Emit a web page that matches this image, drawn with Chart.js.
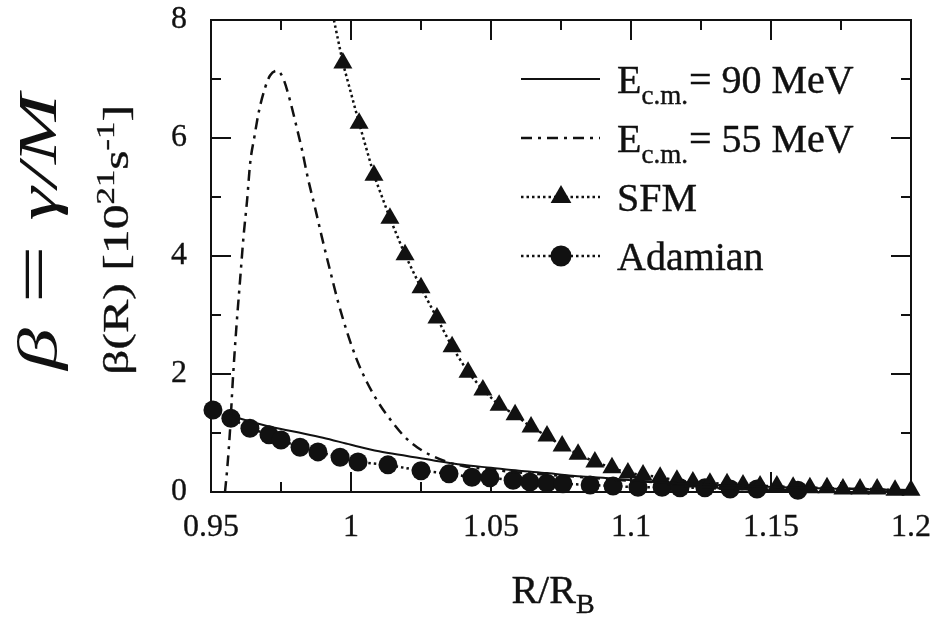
<!DOCTYPE html>
<html>
<head>
<meta charset="utf-8">
<script src="https://cdn.jsdelivr.net/npm/chart.js@4.4.1/dist/chart.umd.min.js"></script>
<style>
  html, body { margin: 0; padding: 0; background: #fff; }
  #wrap { width: 943px; height: 619px; }
</style>
</head>
<body>
<div id="wrap"><canvas id="BetaChart" width="943" height="619"></canvas></div>
<script>
// axis ticks
const xTicks = [0.95, 1, 1.05, 1.1, 1.15, 1.2];
const xMinorTicks = [0.975, 1.025, 1.075, 1.125, 1.175];
const yTicks = [0, 2, 4, 6, 8];
const yMinorTicks = [1, 3, 5, 7];

// E_c.m. = 90 MeV
const r90 = [0.9575, 0.96, 0.97, 0.98, 0.99, 1.0, 1.01, 1.02, 1.03, 1.04, 1.05, 1.06, 1.07,
  1.08, 1.09, 1.1, 1.12, 1.14, 1.16, 1.18, 1.2];
const beta90 = [1.29, 1.25, 1.12, 1.02, 0.92, 0.8, 0.69, 0.61, 0.53, 0.46, 0.41, 0.36, 0.32,
  0.27, 0.24, 0.2, 0.14, 0.1, 0.07, 0.05, 0.03];

// E_c.m. = 55 MeV
const r55 = [0.955, 0.9558, 0.9568, 0.9578, 0.959, 0.9604, 0.9616, 0.9629, 0.964, 0.9655,
  0.9671, 0.9693, 0.9711, 0.9736, 0.9757, 0.9782, 0.9804, 0.9825, 0.9846, 0.9871, 0.9896,
  0.9925, 0.9954, 0.9986, 1.0021, 1.0057, 1.0104, 1.015, 1.0193, 1.0236, 1.0282, 1.0343,
  1.04, 1.05, 1.06, 1.08, 1.1, 1.14, 1.2];
const beta55 = [0, 0.4, 1.05, 1.9, 2.75, 3.6, 4.32, 4.95, 5.58, 6.02,
  6.45, 6.85, 7.06, 7.14, 7.02, 6.64, 6.22, 5.8, 5.32, 4.83, 4.32,
  3.76, 3.22, 2.71, 2.24, 1.86, 1.47, 1.17, 0.93, 0.76, 0.63, 0.51,
  0.44, 0.38, 0.33, 0.26, 0.19, 0.1, 0.03];

// SFM
const rSFM = [0.9939, 0.9971, 1.0029, 1.0082, 1.0139, 1.0193, 1.025, 1.0307, 1.0361, 1.0418,
  1.0471, 1.0529, 1.0586, 1.0643, 1.07, 1.0754, 1.0811, 1.0871, 1.0932, 1.0989, 1.1043,
  1.1104, 1.1164, 1.1221, 1.1282, 1.1343, 1.14, 1.1461, 1.1521, 1.1579, 1.1639, 1.17,
  1.1757, 1.1818, 1.1879, 1.1943, 1.2];
const betaSFM = [8.0, 7.27, 6.25, 5.37, 4.64, 4.02, 3.46, 2.95, 2.46, 2.03,
  1.73, 1.47, 1.31, 1.1, 0.95, 0.78, 0.64, 0.51, 0.41, 0.32, 0.29,
  0.25, 0.2, 0.17, 0.15, 0.14, 0.12, 0.1, 0.1, 0.08, 0.07, 0.07,
  0.05, 0.05, 0.05, 0.03, 0.03];

// Adamian
const rAdamian = [0.9507, 0.9571, 0.9639, 0.9707, 0.975, 0.9818, 0.9882, 0.9961, 1.0025, 1.0132,
  1.025, 1.035, 1.0432, 1.0496, 1.0579, 1.0639, 1.07, 1.0757, 1.0854, 1.0936, 1.1025,
  1.1111, 1.1175, 1.1264, 1.1354, 1.145, 1.1596];
const betaAdamian = [1.39, 1.25, 1.08, 0.97, 0.88, 0.76, 0.68, 0.59, 0.51, 0.46,
  0.36, 0.31, 0.25, 0.24, 0.2, 0.17, 0.15, 0.14, 0.12, 0.1, 0.08,
  0.08, 0.07, 0.07, 0.05, 0.05, 0.03];

const INK = '#111';
const SERIF = '"Liberation Serif", "Times New Roman", serif';
const toXY = (xs, ys) => xs.map((x, i) => ({ x: x, y: ys[i] }));

// inward ticks on all four sides plus the frame
const framePlugin = {
  id: 'frame',
  afterDatasetsDraw(chart) {
    const { ctx, chartArea: a, scales: { x, y } } = chart;
    ctx.save();
    ctx.strokeStyle = INK;
    ctx.lineWidth = 2;
    ctx.setLineDash([]);
    ctx.strokeRect(a.left, a.top, a.right - a.left, a.bottom - a.top);
    const xMark = (v, len) => {
      const px = x.getPixelForValue(v);
      ctx.beginPath();
      ctx.moveTo(px, a.bottom); ctx.lineTo(px, a.bottom - len);
      ctx.moveTo(px, a.top); ctx.lineTo(px, a.top + len);
      ctx.stroke();
    };
    const yMark = (v, len) => {
      const py = y.getPixelForValue(v);
      ctx.beginPath();
      ctx.moveTo(a.left, py); ctx.lineTo(a.left + len, py);
      ctx.moveTo(a.right, py); ctx.lineTo(a.right - len, py);
      ctx.stroke();
    };
    xTicks.forEach(v => xMark(v, 20));
    xMinorTicks.forEach(v => xMark(v, 10));
    yTicks.forEach(v => yMark(v, 20));
    yMinorTicks.forEach(v => yMark(v, 10));
    ctx.restore();
  }
};

function marker(ctx, style, cx, cy, r) {
  ctx.beginPath();
  if (style === 'triangle') {
    ctx.moveTo(cx, cy - r);
    ctx.lineTo(cx + r * 0.866, cy + r * 0.5);
    ctx.lineTo(cx - r * 0.866, cy + r * 0.5);
    ctx.closePath();
  } else {
    ctx.arc(cx, cy, r, 0, Math.PI * 2);
  }
  ctx.fill();
}

// text made of pieces: {t, size, dy, italic, gap}
function richWidth(ctx, parts) {
  let w = 0;
  parts.forEach(p => {
    ctx.font = (p.italic ? 'italic ' : '') + p.size + 'px ' + SERIF;
    w += ctx.measureText(p.t).width + (p.gap || 0);
  });
  return w;
}
function drawRich(ctx, parts, x0, y0, weight) {
  let x = x0;
  parts.forEach(p => {
    ctx.font = (p.italic ? 'italic ' : '') + p.size + 'px ' + SERIF;
    ctx.fillText(p.t, x, y0 + (p.dy || 0));
    if (weight) {
      ctx.lineWidth = weight;
      ctx.strokeText(p.t, x, y0 + (p.dy || 0));
    }
    x += ctx.measureText(p.t).width + (p.gap || 0);
  });
}
// vertical text, read bottom to top, centred on cy and stretched to len
function drawVertical(ctx, parts, baseX, cy, len, weight) {
  const w = richWidth(ctx, parts);
  ctx.save();
  ctx.translate(baseX, cy);
  ctx.rotate(-Math.PI / 2);
  ctx.scale(len / w, 1);
  drawRich(ctx, parts, -w / 2, 0, weight);
  ctx.restore();
}

const labelsPlugin = {
  id: 'labels',
  afterDraw(chart) {
    const ctx = chart.ctx;
    ctx.save();
    ctx.fillStyle = INK;
    ctx.strokeStyle = INK;
    ctx.textBaseline = 'alphabetic';
    ctx.textAlign = 'left';

    // legend
    const rows = [79, 138, 197, 256];
    const lx0 = 521, lx1 = 600, mx = 561, tx = 617;
    chart.data.datasets.forEach((ds, i) => {
      const yy = rows[i];
      ctx.lineWidth = ds.borderWidth;
      ctx.setLineDash(ds.borderDash || []);
      ctx.beginPath();
      ctx.moveTo(lx0, yy); ctx.lineTo(lx1, yy);
      ctx.stroke();
      ctx.setLineDash([]);
      if (ds.legendMarker) marker(ctx, ds.legendMarker, mx, yy, ds.legendMarker === 'triangle' ? 12 : 10.5);
    });
    const ecm = (val) => [
      { t: 'E', size: 40 },
      { t: 'c.m.', size: 27, dy: 11, gap: 1 },
      { t: '= ' + val + ' MeV', size: 40 }
    ];
    drawRich(ctx, ecm('90'), tx, rows[0] + 14, 0.4);
    drawRich(ctx, ecm('55'), tx, rows[1] + 14, 0.4);
    drawRich(ctx, [{ t: 'SFM', size: 40 }], tx, rows[2] + 14, 0.4);
    drawRich(ctx, [{ t: 'Adamian', size: 40 }], tx, rows[3] + 14, 0.4);

    // x title
    const xt = [{ t: 'R/R', size: 40 }, { t: 'B', size: 28, dy: 10 }];
    drawRich(ctx, xt, 553 - richWidth(ctx, xt) / 2, 603, 0.4);

    // y title
    drawVertical(ctx, [
      { t: '\u03b2(R) [10', size: 36 },
      { t: '21', size: 25, dy: -14 },
      { t: 's', size: 36 },
      { t: '-1', size: 25, dy: -14 },
      { t: ']', size: 36 }
    ], 128, 240, 270, 0.35);

    // defining relation
    drawVertical(ctx, [
      { t: '\u03b2', size: 54, italic: true, gap: 16 },
      { t: '=', size: 66, gap: 16 },
      { t: '\u03b3/M', size: 54, italic: true }
    ], 56, 232, 276);
    ctx.restore();
  }
};

new Chart(document.getElementById('BetaChart').getContext('2d'), {
  type: 'scatter',
  data: {
    datasets: [{
      label: 'E c.m. = 90 MeV',
      data: toXY(r90, beta90),
      showLine: true,
      borderColor: INK,
      borderWidth: 2,
      pointRadius: 0,
      cubicInterpolationMode: 'monotone'
    }, {
      label: 'E c.m. = 55 MeV',
      data: toXY(r55, beta55),
      showLine: true,
      borderColor: INK,
      borderWidth: 2.5,
      borderDash: [11, 6, 3, 6],
      pointRadius: 0,
      cubicInterpolationMode: 'monotone'
    }, {
      label: 'SFM',
      data: toXY(rSFM, betaSFM),
      showLine: true,
      borderColor: INK,
      borderWidth: 2.5,
      borderDash: [2.5, 3],
      pointStyle: 'triangle',
      pointRadius: ctx => ctx.dataIndex === 0 ? 0 : 11,
      pointBackgroundColor: INK,
      pointBorderWidth: 0,
      legendMarker: 'triangle'
    }, {
      label: 'Adamian',
      data: toXY(rAdamian, betaAdamian),
      showLine: true,
      borderColor: INK,
      borderWidth: 2.5,
      borderDash: [2.5, 3],
      pointStyle: 'circle',
      pointRadius: 9.5,
      pointBackgroundColor: INK,
      pointBorderWidth: 0,
      legendMarker: 'circle'
    }]
  },
  options: {
    responsive: false,
    animation: false,
    devicePixelRatio: 1,
    clip: false,
    layout: { padding: { left: 0, right: 32, top: 20, bottom: 0 } },
    plugins: { legend: { display: false }, tooltip: { enabled: false } },
    scales: {
      x: {
        type: 'linear',
        min: 0.95,
        max: 1.2,
        afterBuildTicks: s => { s.ticks = xTicks.map(v => ({ value: v })); },
        afterFit: s => { s.height = 127; s.paddingLeft = 0; s.paddingRight = 0; },
        grid: { display: false },
        border: { display: false },
        ticks: {
          font: { family: SERIF, size: 32 },
          color: INK,
          textStrokeColor: INK,
          textStrokeWidth: 0.3,
          padding: 8,
          maxRotation: 0,
          autoSkip: false,
          callback: v => String(+Number(v).toFixed(2))
        }
      },
      y: {
        type: 'linear',
        min: 0,
        max: 8,
        afterBuildTicks: s => { s.ticks = yTicks.map(v => ({ value: v })); },
        afterFit: s => { s.width = 211; s.paddingTop = 0; s.paddingBottom = 0; },
        grid: { display: false },
        border: { display: false },
        ticks: {
          font: { family: SERIF, size: 32 },
          color: INK,
          textStrokeColor: INK,
          textStrokeWidth: 0.3,
          padding: 16,
          callback: v => String(v)
        }
      }
    }
  },
  plugins: [framePlugin, labelsPlugin]
});
</script>
</body>
</html>
